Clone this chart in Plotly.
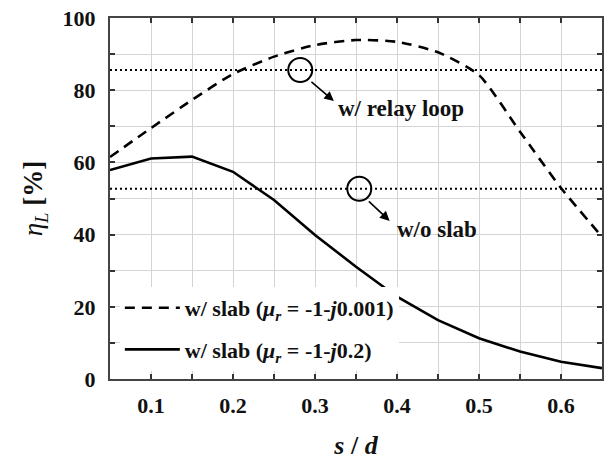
import plotly.graph_objects as go

# Data
x_vals = [0.05, 0.10, 0.15, 0.20, 0.25, 0.30, 0.35, 0.40, 0.45, 0.50, 0.55, 0.60, 0.65]
eta_slab_low_loss = [61.5, 69.5, 77.3, 84.5, 89.3, 92.5, 93.9, 93.4, 90.5, 84.2, 68.5, 52.9, 39.4]
eta_slab_high_loss = [57.9, 61.1, 61.6, 57.4, 49.6, 39.9, 31.1, 22.8, 16.3, 11.3, 7.6, 4.8, 3.0]
eta_relay_loop = 85.6
eta_no_slab = 52.7

FONT = "Liberation Serif, Times New Roman, serif"

fig = go.Figure()

fig.add_trace(go.Scatter(
    x=x_vals, y=eta_slab_low_loss, mode="lines",
    line=dict(color="black", width=2.6, dash="10px,7px", shape="spline", smoothing=0.6),
    name="<b>w/ slab (<i>μ</i><sub><i>r</i></sub> = -1-<i>j</i>0.001)</b>",
    legendgroup="a",
))
fig.add_trace(go.Scatter(
    x=x_vals, y=eta_slab_high_loss, mode="lines",
    line=dict(color="black", width=2.6),
    name="<b>w/ slab (<i>μ</i><sub><i>r</i></sub> = -1-<i>j</i>0.2)</b>",
    legendgroup="b",
))

# Reference horizontal levels
for lvl in [eta_relay_loop, eta_no_slab]:
    fig.add_trace(go.Scatter(
        x=[x_vals[0], x_vals[-1]], y=[lvl, lvl], mode="lines",
        line=dict(color="black", width=2.2, dash="2px,3px"),
        showlegend=False, hoverinfo="skip",
    ))

# Circles marking the levels
circles = [(0.282, eta_relay_loop), (0.354, eta_no_slab)]
for cx, cy in circles:
    fig.add_shape(type="circle", xref="x", yref="y",
                  xsizemode="pixel", ysizemode="pixel",
                  xanchor=cx, yanchor=cy, x0=-12, x1=12, y0=-12, y1=12,
                  line=dict(color="black", width=2))

# Arrows
fig.add_annotation(x=0.323, y=77.0, ax=0.292, ay=83.0, xref="x", yref="y",
                   axref="x", ayref="y", text=" ", showarrow=True,
                   arrowhead=2, arrowsize=1.2, arrowwidth=1.6, arrowcolor="black")
fig.add_annotation(x=0.391, y=43.8, ax=0.362, ay=50.0, xref="x", yref="y",
                   axref="x", ayref="y", text=" ", showarrow=True,
                   arrowhead=2, arrowsize=1.2, arrowwidth=1.6, arrowcolor="black")

fig.add_annotation(x=0.326, y=74.8, xref="x", yref="y", text="<b>w/ relay loop</b>",
                   showarrow=False, xanchor="left", yanchor="middle",
                   font=dict(family=FONT, size=23, color="#111"))
fig.add_annotation(x=0.398, y=41.3, xref="x", yref="y", text="<b>w/o slab</b>",
                   showarrow=False, xanchor="left", yanchor="middle",
                   font=dict(family=FONT, size=23, color="#111"))

axis_common = dict(
    showline=True, linecolor="#444", linewidth=2, mirror="ticks",
    ticks="inside", ticklen=5, tickcolor="#333", tickwidth=1.5,
    showgrid=True, gridcolor="#d4d4d4", gridwidth=1,
    zeroline=False, automargin=False,
    tickfont=dict(family=FONT, size=22, color="#111", weight="bold"),
)

fig.update_xaxes(
    range=[0.05, 0.65], dtick=0.1, tick0=0.1, tickformat=".1f",
    minor=dict(dtick=0.05, tick0=0.05, ticks="inside", ticklen=5, tickcolor="#333",
               showgrid=True, gridcolor="#d4d4d4"),
    ticklabelstandoff=6,
    title=dict(text="<b><i>s</i> / <i>d</i></b>", font=dict(family=FONT, size=26, color="#111"),
               standoff=21),
    **axis_common,
)
fig.update_yaxes(
    range=[0, 100], dtick=20, tick0=0,
    minor=dict(dtick=10, tick0=0, ticks="inside", ticklen=5, tickcolor="#333",
               showgrid=True, gridcolor="#d4d4d4"),
    ticklabelstandoff=8,
    title=dict(text="<i>η<sub>L</sub></i> <b>[%]</b>", font=dict(family=FONT, size=27, color="#111"),
               standoff=12),
    **axis_common,
)

fig.update_layout(
    width=608, height=460,
    margin=dict(l=110, r=6, t=18, b=81),
    plot_bgcolor="white", paper_bgcolor="white",
    showlegend=True,
    legend=dict(x=0.02, y=0.255, xanchor="left", yanchor="top",
                bgcolor="white", borderwidth=0,
                font=dict(family=FONT, size=22, color="#111"),
                tracegroupgap=10, itemwidth=55),
)

fig.write_html("out.html")
